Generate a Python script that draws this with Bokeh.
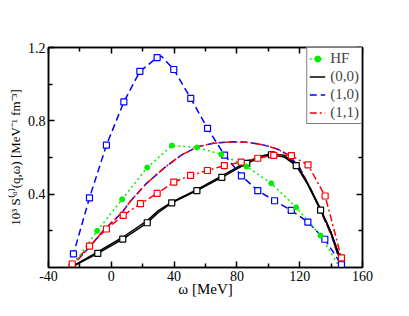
from bokeh.plotting import figure
from bokeh.models import Range1d, FixedTicker, LinearAxis, Legend, LegendItem
from bokeh.embed import file_html
from bokeh.resources import INLINE

# ---------------- data ----------------
x_ticks = [-40, 0, 40, 80, 120, 160]
x_tick_labels = ["-40", "0", "40", "80", "120", "160"]
x_minor = [-20, 20, 60, 100, 140]
y_ticks = [0.4, 0.8, 1.2]
y_tick_labels = ["0.4", "0.8", "1.2"]
y_minor = [0.2, 0.6, 1.0]

# HF
hf_x = [-25.5, -9.0, 6.9, 22.9, 38.6, 54.6, 70.1, 86.1, 101.9, 117.8, 133.3, 145.5]
hf_y = [0.0, 0.200, 0.372, 0.546, 0.665, 0.655, 0.617, 0.551, 0.459, 0.328, 0.174, 0.0]

# (0,0) curve with markers
s00_line_x = [-26.0, -24.9, -8.6, 7.3, 22.9, 30.0, 38.5, 54.5, 70.4, 86.3, 95.0, 102.0, 110.0, 117.8, 125.0, 133.3, 140.0, 146.6, 147.3]
s00_line_y = [0.0, 0.004, 0.077, 0.155, 0.244, 0.300, 0.353, 0.419, 0.492, 0.568, 0.600, 0.615, 0.603, 0.556, 0.455, 0.313, 0.190, 0.037, 0.0]
s00_mark_x = [-24.9, -8.6, 7.3, 22.9, 38.5, 54.5, 70.4, 86.3, 102.0, 117.8, 133.3, 146.6]
s00_mark_y = [0.004, 0.077, 0.155, 0.244, 0.353, 0.419, 0.492, 0.568, 0.615, 0.556, 0.313, 0.037]
# (0,0) curve without markers
s00b_x = [-26.0, -8.6, 7.3, 22.9, 30.0, 38.5, 54.5, 70.4, 86.3, 95.0, 102.0, 110.0, 117.8, 125.0, 133.3, 140.0, 147.3]
s00b_y = [0.0, 0.085, 0.165, 0.256, 0.310, 0.356, 0.425, 0.500, 0.576, 0.607, 0.620, 0.612, 0.565, 0.460, 0.320, 0.190, 0.0]

# (1,0) curve with markers
s10_line_x = [-26.0, -24.1, -13.9, -3.1, 8.0, 18.2, 29.2, 32.0, 39.8, 50.6, 61.3, 72.1, 82.9, 93.3, 104.0, 114.6, 125.2, 136.0, 146.6, 147.2]
s10_line_y = [0.0, 0.074, 0.380, 0.667, 0.903, 1.070, 1.145, 1.152, 1.080, 0.922, 0.759, 0.613, 0.500, 0.419, 0.364, 0.312, 0.248, 0.154, 0.015, 0.0]
s10_mark_x = [-24.1, -13.9, -3.1, 8.0, 18.2, 29.2, 39.8, 50.6, 61.3, 72.1, 82.9, 93.3, 104.0, 114.6, 125.2, 136.0, 146.6]
s10_mark_y = [0.074, 0.380, 0.667, 0.903, 1.070, 1.145, 1.080, 0.922, 0.759, 0.613, 0.500, 0.419, 0.364, 0.312, 0.248, 0.154, 0.015]

# (1,1) curve with markers
s11_line_x = [-26.0, -24.9, -13.9, -3.1, 7.6, 18.6, 29.2, 39.8, 50.5, 61.2, 72.0, 82.7, 93.3, 103.5, 114.7, 125.3, 136.2, 146.6, 147.5]
s11_line_y = [0.0, 0.019, 0.117, 0.210, 0.284, 0.348, 0.404, 0.466, 0.503, 0.529, 0.556, 0.575, 0.596, 0.612, 0.610, 0.560, 0.390, 0.052, 0.0]
s11_mark_x = [-24.9, -13.9, -3.1, 7.6, 18.6, 29.2, 39.8, 50.5, 61.2, 72.0, 82.7, 93.3, 103.5, 114.7, 125.3, 136.2, 146.6]
s11_mark_y = [0.019, 0.117, 0.210, 0.284, 0.348, 0.404, 0.466, 0.503, 0.529, 0.556, 0.575, 0.596, 0.612, 0.610, 0.560, 0.390, 0.052]

# (1,0) and (1,1) curves without markers (they coincide)
alt_x = [-26.0, -14.0, -4.8, 6.9, 12.0, 22.0, 34.5, 45.0, 54.7, 65.0, 77.0, 86.0, 93.0, 100.0, 106.0, 113.0, 120.0, 128.0, 133.3, 140.0, 147.0]
alt_y = [0.0, 0.110, 0.204, 0.300, 0.360, 0.455, 0.549, 0.615, 0.658, 0.678, 0.686, 0.683, 0.675, 0.662, 0.645, 0.613, 0.545, 0.410, 0.310, 0.180, 0.0]

# ---------------- figure ----------------
FONT = "Liberation Serif"
GREEN = "#00ee00"
BLUE = "#0000ff"
RED = "#ff0000"

p = figure(width=400, height=310, output_backend="svg", toolbar_location=None,
           x_range=Range1d(-40, 160), y_range=Range1d(0, 1.2),
           min_border_left=48, min_border_right=38, min_border_top=47, min_border_bottom=43)
p.xgrid.visible = False
p.ygrid.visible = False
p.outline_line_color = "black"
p.outline_line_width = 1.5
p.background_fill_color = "white"
p.border_fill_color = "white"

xt = FixedTicker(ticks=x_ticks, minor_ticks=x_minor)
yt = FixedTicker(ticks=y_ticks, minor_ticks=y_minor)


def style_axis(ax, show_labels):
    ax.axis_line_width = 1.5
    ax.axis_line_color = "black"
    ax.major_tick_in = 6
    ax.major_tick_out = 0
    ax.minor_tick_in = 4
    ax.minor_tick_out = 0
    ax.major_tick_line_width = 1.5
    ax.minor_tick_line_width = 1.5
    ax.major_label_text_font = FONT
    ax.axis_label_text_font = FONT
    ax.axis_label_text_font_style = "normal"
    ax.axis_label_text_color = "black"
    ax.major_label_text_color = "black"
    ax.major_label_text_font_size = "14px"
    ax.axis_label_text_font_size = "15px"
    if show_labels:
        ax.major_label_standoff = 3
        ax.axis_label_standoff = 2
    else:
        ax.major_label_standoff = 0


xa = p.xaxis[0]
xa.ticker = xt
xa.major_label_overrides = dict(zip(x_ticks, x_tick_labels))
xa.axis_label = "ω [MeV]"
style_axis(xa, True)
xa.axis_label_standoff = -3

ya = p.yaxis[0]
ya.ticker = yt
ya.major_label_overrides = dict(zip(y_ticks, y_tick_labels))
ya.axis_label = "10³ S⁽ᵅ⁾(q,ω) [MeV⁻¹ fm⁻³]"
style_axis(ya, True)
ya.axis_label_text_font_size = "13px"

top = LinearAxis(ticker=xt, major_label_overrides={t: "" for t in x_ticks})
style_axis(top, False)
p.add_layout(top, "above")
right = LinearAxis(ticker=yt, major_label_overrides={t: "" for t in y_ticks})
style_axis(right, False)
p.add_layout(right, "right")

LW = 1.5
# lines
r_alt_b = p.line(alt_x, alt_y, line_color=BLUE, line_width=LW, line_dash="7 4")
r_alt_r = p.line(alt_x, alt_y, line_color=RED, line_width=LW, line_dash="7 3 2 3", line_dash_offset=5)
r_00b = p.line(s00b_x, s00b_y, line_color="black", line_width=LW)
r_00 = p.line(s00_line_x, s00_line_y, line_color="black", line_width=LW)
r_10 = p.line(s10_line_x, s10_line_y, line_color=BLUE, line_width=LW, line_dash="7 4")
r_11 = p.line(s11_line_x, s11_line_y, line_color=RED, line_width=LW, line_dash="7 3 2 3")
r_hf = p.line(hf_x, hf_y, line_color=GREEN, line_width=LW, line_dash="2 3")

# markers
p.scatter(s00_mark_x, s00_mark_y, marker="square", size=6, line_color="black",
          fill_color="white", line_width=1.2)
p.scatter(s10_mark_x, s10_mark_y, marker="square", size=6, line_color=BLUE,
          fill_color="white", line_width=1.2)
p.scatter(s11_mark_x, s11_mark_y, marker="square", size=6, line_color=RED,
          fill_color="white", line_width=1.2)
r_hf_pts = p.scatter(hf_x[1:-1], hf_y[1:-1], marker="circle", size=5,
                     line_color=GREEN, fill_color=GREEN)

legend = Legend(items=[
    LegendItem(label="HF", renderers=[r_hf, r_hf_pts]),
    LegendItem(label="(0,0)", renderers=[r_00b]),
    LegendItem(label="(1,0)", renderers=[r_10]),
    LegendItem(label="(1,1)", renderers=[r_11]),
], location="top_right")
legend.margin = 0
legend.padding = 2
legend.spacing = 1
legend.label_height = 15
legend.glyph_height = 15
legend.glyph_width = 16
legend.label_standoff = 5
legend.label_text_font = FONT
legend.label_text_font_size = "15px"
legend.border_line_color = "black"
legend.border_line_width = 1.5
legend.background_fill_color = "white"
legend.background_fill_alpha = 1.0
p.add_layout(legend)

open("out.html", "w").write(file_html(p, INLINE))
